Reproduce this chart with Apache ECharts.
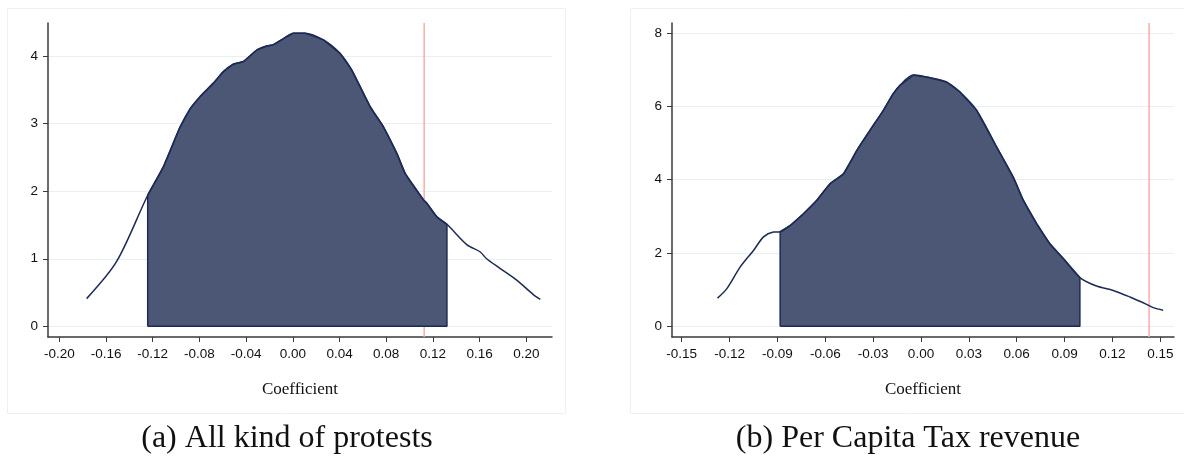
<!DOCTYPE html>
<html>
<head>
<meta charset="utf-8">
<script src="https://cdn.jsdelivr.net/npm/echarts@6/dist/echarts.min.js"></script>
<style>
  html, body { margin: 0; padding: 0; background: #fff; }
  #chart { width: 1184px; height: 459px; }
</style>
</head>
<body>
<div id="chart"></div>
<script>
// (a) All kind of protests - kernel density of placebo coefficients
const protestX = [-0.1766, -0.1509, -0.1243, -0.1109, -0.0966, -0.088, -0.0795, -0.068, -0.0595, -0.051, -0.0423,
  -0.0309, -0.0223, -0.0166, -0.008, 0.0005, 0.0105, 0.0262, 0.0405, 0.0506, 0.0663, 0.0777, 0.0891, 0.0963,
  0.112, 0.1149, 0.1234, 0.132, 0.149, 0.1606, 0.166, 0.1777, 0.192, 0.206, 0.212];
const protestY = [0.41, 0.96, 1.94, 2.36, 2.95, 3.22, 3.40, 3.60, 3.77, 3.88, 3.92,
  4.09, 4.15, 4.17, 4.26, 4.34, 4.34, 4.24, 4.04, 3.79, 3.25, 2.95, 2.56, 2.26,
  1.87, 1.82, 1.62, 1.51, 1.21, 1.10, 1.0, 0.855, 0.68, 0.47, 0.40];
const protestBand = [-0.1243, 0.132];
const protestActual = 0.1125;
const protestXTicks = [-0.20, -0.16, -0.12, -0.08, -0.04, 0.00, 0.04, 0.08, 0.12, 0.16, 0.20];
const protestYTicks = [0, 1, 2, 3, 4];

// (b) Per Capita Tax revenue
const taxX = [-0.1276, -0.1217, -0.1133, -0.105, -0.0987, -0.0925, -0.0883, -0.082, -0.0737, -0.0653, -0.057,
  -0.0486, -0.0402, -0.0319, -0.0236, -0.0173, -0.0132, -0.0048, 0.0056, 0.0161, 0.0244, 0.0349, 0.0474,
  0.0578, 0.0641, 0.0725, 0.0808, 0.0892, 0.0996, 0.11, 0.1205, 0.131, 0.1414, 0.1456, 0.1518];
const taxY = [0.77, 1.03, 1.62, 2.07, 2.44, 2.57, 2.58, 2.75, 3.07, 3.44, 3.89,
  4.16, 4.80, 5.35, 5.89, 6.35, 6.57, 6.85, 6.78, 6.66, 6.39, 5.89, 4.89,
  4.07, 3.44, 2.80, 2.25, 1.85, 1.33, 1.10, 0.98, 0.80, 0.60, 0.51, 0.44];
const taxBand = [-0.0883, 0.0996];
const taxActual = 0.143;
const taxXTicks = [-0.15, -0.12, -0.09, -0.06, -0.03, 0.00, 0.03, 0.06, 0.09, 0.12, 0.15];
const taxYTicks = [0, 2, 4, 6, 8];

const captions = ['(a) All kind of protests', '(b) Per Capita Tax revenue'];

const lineColor = '#1c2b56';
const fillColor = '#4b5775';

function pairs(xs, ys) {
  return xs.map((x, i) => [x, ys[i]]);
}
// shaded part: curve points inside the band, closed down to zero
function band(xs, ys, b) {
  const pts = pairs(xs, ys).filter(p => p[0] >= b[0] - 1e-9 && p[0] <= b[1] + 1e-9);
  return [[b[0], 0]].concat(pts, [[b[1], 0], [b[0], 0]]);
}

function xAxisFor(gi, min, max, ticks) {
  return {
    type: 'value', gridIndex: gi, min: min, max: max,
    name: 'Coefficient', nameLocation: 'middle', nameGap: 44,
    nameTextStyle: { fontFamily: 'Liberation Serif', fontSize: 17, color: '#111' },
    axisLine: { onZero: false, lineStyle: { color: '#3a3a3a', width: 1.5 } },
    axisTick: { length: 5, lineStyle: { color: '#3a3a3a' }, customValues: ticks },
    axisLabel: {
      customValues: ticks, margin: 10, fontFamily: 'Liberation Sans', fontSize: 13.5, color: '#111',
      formatter: v => v.toFixed(2)
    },
    splitLine: { show: false }
  };
}
function yAxisFor(gi, min, max, ticks) {
  return {
    type: 'value', gridIndex: gi, min: min, max: max,
    axisLine: { show: true, onZero: false, lineStyle: { color: '#3a3a3a', width: 1.5 } },
    axisTick: { show: true, length: 5, lineStyle: { color: '#3a3a3a' }, customValues: ticks },
    axisLabel: { customValues: ticks, margin: 10, fontFamily: 'Liberation Sans', fontSize: 13.5, color: '#111' },
    splitLine: { show: true, lineStyle: { color: '#e8f0f1', width: 1.2 } }
  };
}
function seriesFor(gi, xs, ys, b, actual, ymin, ymax) {
  return [
    {
      // vertical reference line, behind the shaded area
      type: 'line', xAxisIndex: gi, yAxisIndex: gi, data: [[actual, ymin], [actual, ymax]],
      symbol: 'none', silent: true, z: 1,
      lineStyle: { color: '#ffaaaa', width: 1.5 }
    },
    {
      type: 'line', xAxisIndex: gi, yAxisIndex: gi, data: band(xs, ys, b),
      symbol: 'none', smooth: false, silent: true, z: 2,
      lineStyle: { color: lineColor, width: 1.5 },
      areaStyle: { color: fillColor, opacity: 1 }
    },
    {
      type: 'line', xAxisIndex: gi, yAxisIndex: gi, data: pairs(xs, ys),
      symbol: 'none', smooth: 0.3, silent: true, z: 3,
      lineStyle: { color: lineColor, width: 1.5 }
    }
  ];
}

const chart = echarts.init(document.getElementById('chart'));
chart.setOption({
  animation: false,
  backgroundColor: '#fff',
  grid: [
    { left: 48, top: 23, width: 504, height: 314 },
    { left: 672, top: 23, width: 502, height: 314 }
  ],
  xAxis: [
    xAxisFor(0, -0.2097, 0.222, protestXTicks),
    xAxisFor(1, -0.1561, 0.1586, taxXTicks)
  ],
  yAxis: [
    yAxisFor(0, -0.158, 4.49, protestYTicks),
    yAxisFor(1, -0.29, 8.27, taxYTicks)
  ],
  series: seriesFor(0, protestX, protestY, protestBand, protestActual, -0.158, 4.49)
    .concat(seriesFor(1, taxX, taxY, taxBand, taxActual, -0.29, 8.27)),
  graphic: [
    { type: 'rect', shape: { x: 7.5, y: 8.5, width: 558, height: 405 }, style: { fill: 'none', stroke: '#f0f0f0', lineWidth: 1 }, silent: true },
    { type: 'rect', shape: { x: 630.5, y: 8.5, width: 600, height: 405 }, style: { fill: 'none', stroke: '#f0f0f0', lineWidth: 1 }, silent: true },
    { type: 'text', x: 287, y: 439, style: { text: captions[0], font: '32px "Liberation Serif"', fill: '#111', align: 'center', verticalAlign: 'middle' } },
    { type: 'text', x: 908, y: 439, style: { text: captions[1], font: '32px "Liberation Serif"', fill: '#111', align: 'center', verticalAlign: 'middle' } }
  ]
});
</script>
</body>
</html>
